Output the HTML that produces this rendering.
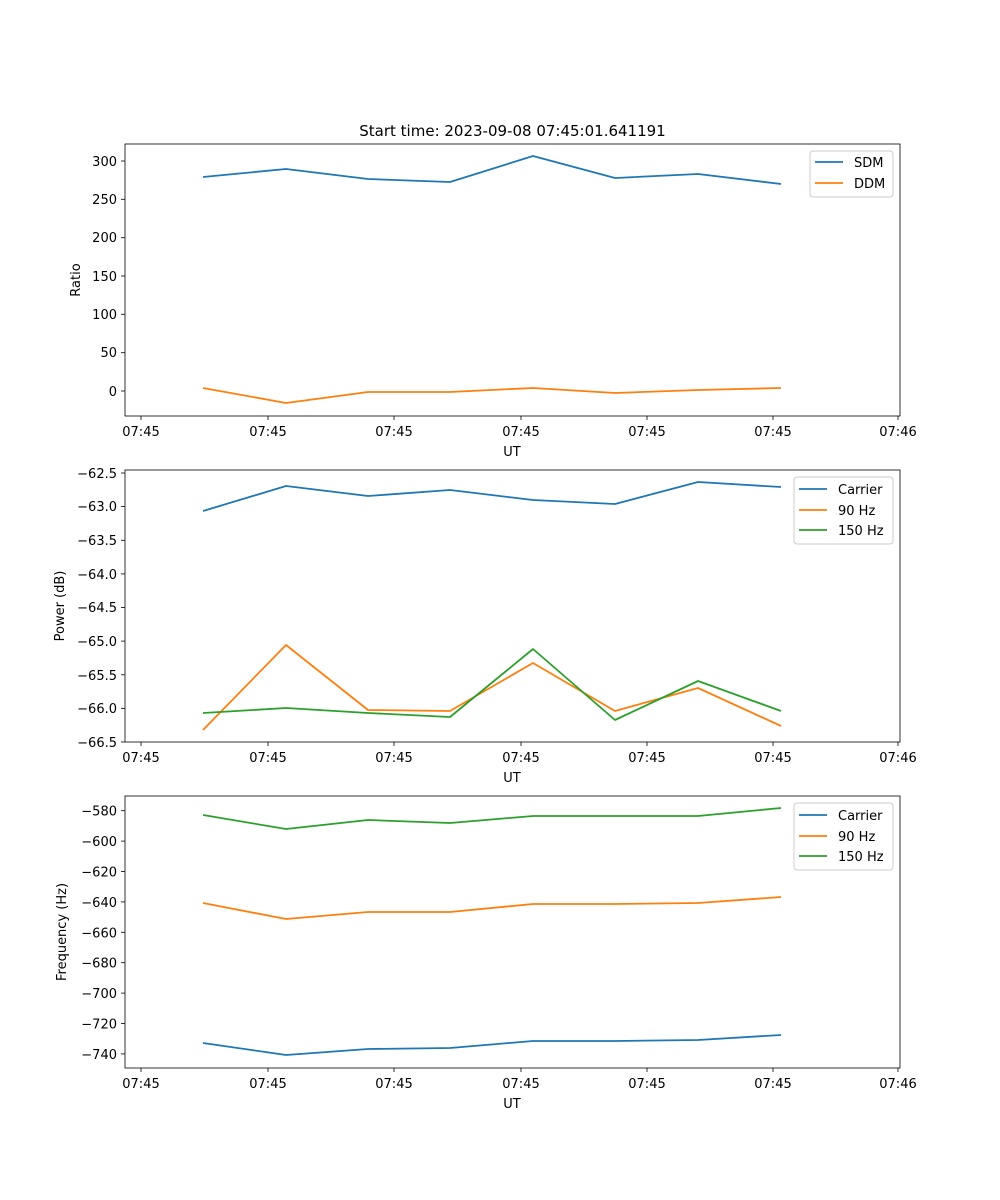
<!DOCTYPE html>
<html><head><meta charset="utf-8"><style>
html,body{margin:0;padding:0;background:#fff;}
svg{display:block;font-family:"DejaVu Sans","Liberation Sans",sans-serif;}
</style></head><body>
<svg width="1000" height="1200" viewBox="0 0 1000 1200" xmlns="http://www.w3.org/2000/svg">
<rect width="1000" height="1200" fill="#fff"/>
<text x="512.5" y="136" font-size="15" text-anchor="middle">Start time: 2023-09-08 07:45:01.641191</text>

<g stroke="#000" stroke-width="0.8" fill="none">
<rect x="125" y="144" width="775" height="272"/>
<rect x="125" y="470" width="775" height="272"/>
<rect x="125" y="796" width="775" height="272"/>
</g>
<g font-size="13" fill="#000">
<g>
<g stroke="#000" stroke-width="0.8">
<line x1="141" y1="416" x2="141" y2="420"/><line x1="268" y1="416" x2="268" y2="420"/><line x1="394" y1="416" x2="394" y2="420"/><line x1="521" y1="416" x2="521" y2="420"/><line x1="647" y1="416" x2="647" y2="420"/><line x1="773" y1="416" x2="773" y2="420"/><line x1="898" y1="416" x2="898" y2="420"/>
<line x1="141" y1="742" x2="141" y2="746"/><line x1="268" y1="742" x2="268" y2="746"/><line x1="394" y1="742" x2="394" y2="746"/><line x1="521" y1="742" x2="521" y2="746"/><line x1="647" y1="742" x2="647" y2="746"/><line x1="773" y1="742" x2="773" y2="746"/><line x1="898" y1="742" x2="898" y2="746"/>
<line x1="141" y1="1068" x2="141" y2="1072"/><line x1="268" y1="1068" x2="268" y2="1072"/><line x1="394" y1="1068" x2="394" y2="1072"/><line x1="521" y1="1068" x2="521" y2="1072"/><line x1="647" y1="1068" x2="647" y2="1072"/><line x1="773" y1="1068" x2="773" y2="1072"/><line x1="898" y1="1068" x2="898" y2="1072"/>
</g>
<g text-anchor="middle">
<text x="141" y="436">07:45</text><text x="268" y="436">07:45</text><text x="394" y="436">07:45</text><text x="521" y="436">07:45</text><text x="647" y="436">07:45</text><text x="773" y="436">07:45</text><text x="898" y="436">07:46</text>
<text x="512" y="456">UT</text>
<text x="141" y="762">07:45</text><text x="268" y="762">07:45</text><text x="394" y="762">07:45</text><text x="521" y="762">07:45</text><text x="647" y="762">07:45</text><text x="773" y="762">07:45</text><text x="898" y="762">07:46</text>
<text x="512" y="782">UT</text>
<text x="141" y="1088">07:45</text><text x="268" y="1088">07:45</text><text x="394" y="1088">07:45</text><text x="521" y="1088">07:45</text><text x="647" y="1088">07:45</text><text x="773" y="1088">07:45</text><text x="898" y="1088">07:46</text>
<text x="512" y="1108">UT</text>
</g>
</g>
<g stroke="#000" stroke-width="0.8">
<line x1="121" y1="161" x2="125" y2="161"/><line x1="121" y1="199.3" x2="125" y2="199.3"/><line x1="121" y1="237.7" x2="125" y2="237.7"/><line x1="121" y1="276" x2="125" y2="276"/><line x1="121" y1="314.3" x2="125" y2="314.3"/><line x1="121" y1="352.7" x2="125" y2="352.7"/><line x1="121" y1="391" x2="125" y2="391"/>
</g>
<g text-anchor="end">
<text x="117" y="166">300</text><text x="117" y="204">250</text><text x="117" y="242">200</text><text x="117" y="281">150</text><text x="117" y="319">100</text><text x="117" y="357">50</text><text x="117" y="396">0</text>
</g>
<text transform="translate(80,280) rotate(-90)" text-anchor="middle">Ratio</text>
<g stroke="#000" stroke-width="0.8">
<line x1="121" y1="473" x2="125" y2="473"/><line x1="121" y1="506.6" x2="125" y2="506.6"/><line x1="121" y1="540.3" x2="125" y2="540.3"/><line x1="121" y1="573.9" x2="125" y2="573.9"/><line x1="121" y1="607.5" x2="125" y2="607.5"/><line x1="121" y1="641.1" x2="125" y2="641.1"/><line x1="121" y1="674.8" x2="125" y2="674.8"/><line x1="121" y1="708.4" x2="125" y2="708.4"/><line x1="121" y1="742" x2="125" y2="742"/>
</g>
<g text-anchor="end">
<text x="117" y="478">−62.5</text><text x="117" y="511">−63.0</text><text x="117" y="545">−63.5</text><text x="117" y="579">−64.0</text><text x="117" y="612">−64.5</text><text x="117" y="646">−65.0</text><text x="117" y="680">−65.5</text><text x="117" y="713">−66.0</text><text x="117" y="747">−66.5</text>
</g>
<text transform="translate(64,606) rotate(-90)" text-anchor="middle">Power (dB)</text>
<g stroke="#000" stroke-width="0.8">
<line x1="121" y1="810.7" x2="125" y2="810.7"/><line x1="121" y1="841.1" x2="125" y2="841.1"/><line x1="121" y1="871.5" x2="125" y2="871.5"/><line x1="121" y1="901.9" x2="125" y2="901.9"/><line x1="121" y1="932.3" x2="125" y2="932.3"/><line x1="121" y1="962.7" x2="125" y2="962.7"/><line x1="121" y1="993.1" x2="125" y2="993.1"/><line x1="121" y1="1023.5" x2="125" y2="1023.5"/><line x1="121" y1="1053.9" x2="125" y2="1053.9"/>
</g>
<g text-anchor="end">
<text x="117" y="815.7">−580</text><text x="117" y="846.1">−600</text><text x="117" y="876.5">−620</text><text x="117" y="906.9">−640</text><text x="117" y="937.3">−660</text><text x="117" y="967.7">−680</text><text x="117" y="998.1">−700</text><text x="117" y="1028.5">−720</text><text x="117" y="1058.9">−740</text>
</g>
<text transform="translate(66,932) rotate(-90)" text-anchor="middle">Frequency (Hz)</text>
</g>

<g fill="none" stroke-width="1.8" stroke-linejoin="round">
<polyline stroke="#1f77b4" points="203,177 286,169 368,179 450,182 533,156 615,178 698,174 781,184"/>
<polyline stroke="#ff7f0e" points="203,388 286,403 368,392 450,392 533,388 615,393 698,390 781,388"/>
<polyline stroke="#1f77b4" points="203,511 286,486 368,496 450,490 533,500 615,504 698,482 781,487"/>
<polyline stroke="#ff7f0e" points="203,730 286,645 368,710 450,711 533,663 615,711 698,688 781,726"/>
<polyline stroke="#2ca02c" points="203,713 286,708 368,713 450,717 533,649 615,720 698,681 781,711"/>
<polyline stroke="#2ca02c" points="203,815 286,829 368,820 450,823 533,816 615,816 698,816 781,808"/>
<polyline stroke="#ff7f0e" points="203,903 286,919 368,912 450,912 533,904 615,904 698,903 781,897"/>
<polyline stroke="#1f77b4" points="203,1043 286,1055 368,1049 450,1048 533,1041 615,1041 698,1040 781,1035"/>
</g>

<g font-size="13">
<rect x="810" y="151" width="83" height="46" rx="3" fill="#fff" stroke="#ccc"/>
<line x1="815" y1="162" x2="843" y2="162" stroke="#1f77b4" stroke-width="1.8"/><text x="854" y="167">SDM</text>
<line x1="815" y1="183" x2="843" y2="183" stroke="#ff7f0e" stroke-width="1.8"/><text x="854" y="188">DDM</text>

<rect x="794" y="477" width="99" height="67" rx="3" fill="#fff" stroke="#ccc"/>
<line x1="799" y1="489" x2="827" y2="489" stroke="#1f77b4" stroke-width="1.8"/><text x="838" y="494">Carrier</text>
<line x1="799" y1="510" x2="827" y2="510" stroke="#ff7f0e" stroke-width="1.8"/><text x="838" y="515">90 Hz</text>
<line x1="799" y1="530" x2="827" y2="530" stroke="#2ca02c" stroke-width="1.8"/><text x="838" y="535">150 Hz</text>

<rect x="794" y="803" width="99" height="67" rx="3" fill="#fff" stroke="#ccc"/>
<line x1="799" y1="815" x2="827" y2="815" stroke="#1f77b4" stroke-width="1.8"/><text x="838" y="820">Carrier</text>
<line x1="799" y1="836" x2="827" y2="836" stroke="#ff7f0e" stroke-width="1.8"/><text x="838" y="841">90 Hz</text>
<line x1="799" y1="856" x2="827" y2="856" stroke="#2ca02c" stroke-width="1.8"/><text x="838" y="861">150 Hz</text>
</g>
</svg>
</body></html>
